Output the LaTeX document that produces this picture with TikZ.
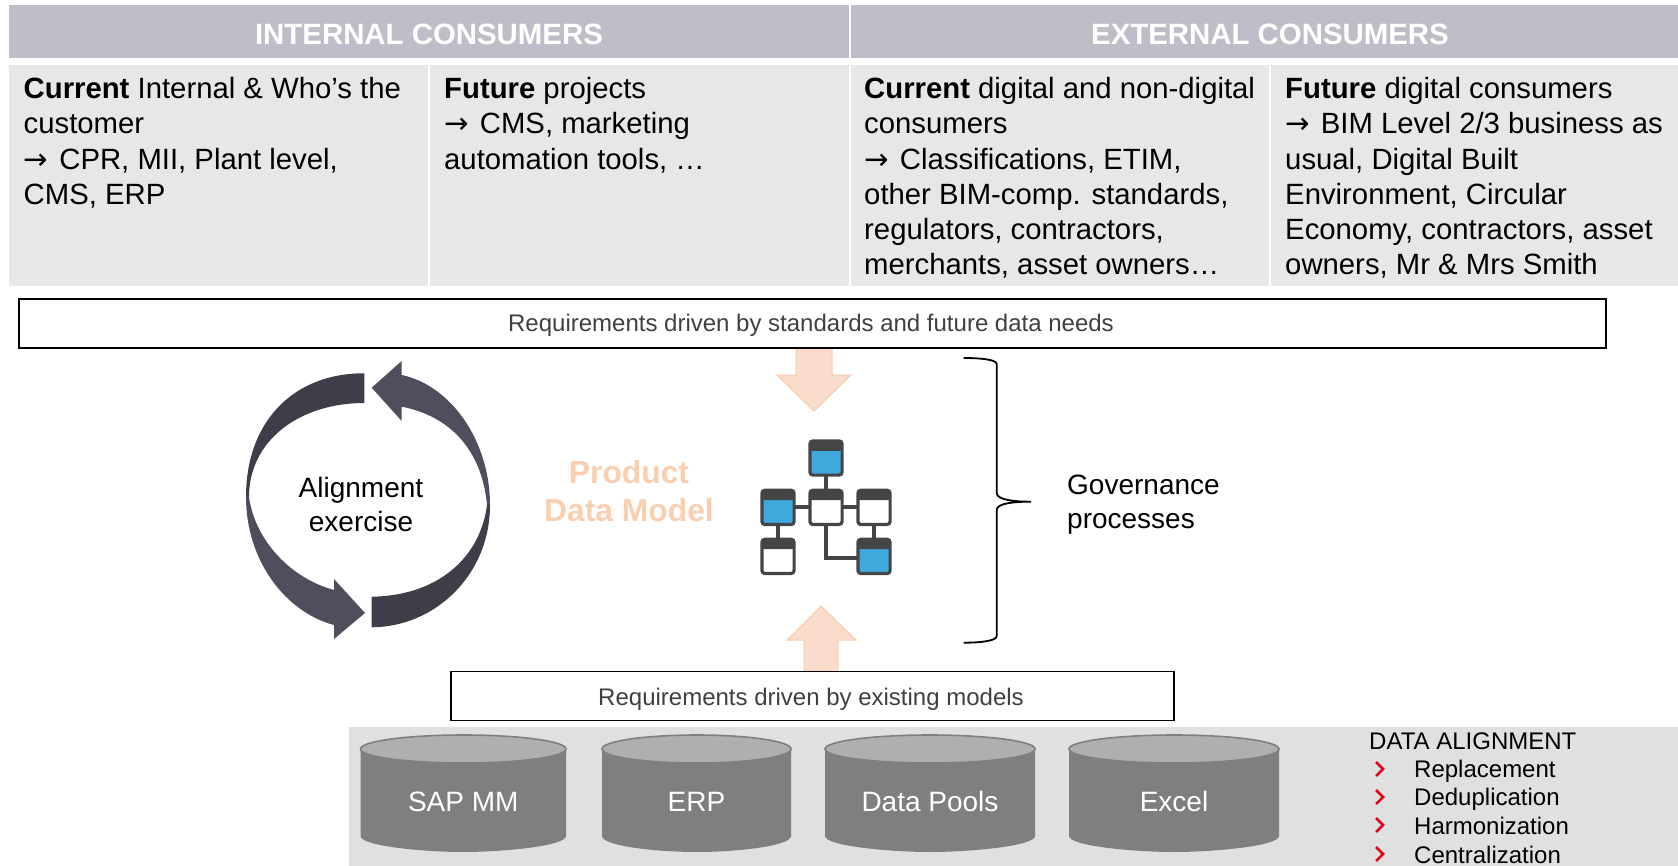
\documentclass[tikz,border=0pt]{standalone}
\usepackage{fontspec}
\setmainfont{Liberation Sans}
\newfontfamily\arw{DejaVu Sans}
\usetikzlibrary{calc}
\definecolor{hdr}{HTML}{BFBEC8}
\definecolor{cellc}{HTML}{E6E7E9}
\definecolor{band}{HTML}{DFE1E0}
\definecolor{lil}{HTML}{524D5C}
\definecolor{lild}{HTML}{403C48}
\definecolor{peachf}{HTML}{F9DCCB}
\definecolor{peachs}{HTML}{F8CBAD}
\definecolor{peacht}{HTML}{F9CFB0}
\definecolor{icond}{HTML}{444547}
\definecolor{iconb}{HTML}{3FA9DC}
\definecolor{cylb}{HTML}{7F7F7F}
\definecolor{cylt}{HTML}{AFAFAF}
\definecolor{chev}{HTML}{E2001A}
\definecolor{reqt}{HTML}{404040}
\newcommand{\ra}{{\arw →}\hspace{3pt}}
\tikzset{
  hdrtxt/.style={text=white,font=\fontsize{29.4}{32}\selectfont\bfseries},
  celltxt/.style={anchor=north west,inner sep=0pt,align=left,font=\fontsize{29.3}{35.3}\selectfont},
  reqbox/.style={draw=black,line width=1.6pt,fill=white},
  reqtxt/.style={text=reqt,font=\fontsize{24}{26}\selectfont},
  peacharrow/.style={fill=peachf,draw=peachs,line width=1pt},
  big/.style={font=\fontsize{28}{33.5}\selectfont,align=center},
  link/.style={draw=icond,line width=4.2pt},
  tbl/.style={draw=icond,line width=3.2pt,rounded corners=3pt},
  chevron/.style={draw=chev,line width=2.5pt},
  altxt/.style={anchor=base west,inner sep=0pt,font=\fontsize{24}{26}\selectfont},
}
\newcommand{\cyl}[4]{% left, right, name, label
  \fill[cylb] (#1,749) -- (#2,749) -- (#2,836) .. controls (#2,846) and ({(#1+#2)/2+40},852) .. ({(#1+#2)/2},852) .. controls ({(#1+#2)/2-40},852) and (#1,846) .. (#1,836) -- cycle;
  \path[fill=cylt,draw=cylb,line width=1.6pt] ({(#1+#2)/2},749) ellipse [x radius={(#2-#1)/2}, y radius=14];
  \node[text=white,font=\fontsize{28}{30}\selectfont] (#3) at ({(#1+#2)/2},801.5) {#4};
}
\newcommand{\tblbox}[4]{% name, left, top, fill
  \path[fill=#4] ($(#2,#3)+(1.6,1.6)$) rectangle +(32.2,34.2);
  \fill[icond,rounded corners=3pt] ($(#2,#3)+(1,1)$) rectangle +(33.4,10.5);
  \draw[tbl] ($(#2,#3)+(1.6,1.6)$) rectangle +(32.2,34.2);
  \coordinate (#1) at ($(#2,#3)+(17.7,18.7)$);
}
\begin{document}
\begin{tikzpicture}[x=1pt,y=-1pt]
\useasboundingbox (0,0) rectangle (1678,866);
% header
\fill[hdr] (9,5) rectangle (849,58);
\fill[hdr] (851,5) rectangle (1678,58);
\node[hdrtxt] (h1) at (429,34) {INTERNAL CONSUMERS};
\node[hdrtxt] (h2) at (1270,34) {EXTERNAL CONSUMERS};
% cells
\fill[cellc] (9,65) rectangle (428,286);
\fill[cellc] (430,65) rectangle (849,286);
\fill[cellc] (851,65) rectangle (1269,286);
\fill[cellc] (1271,65) rectangle (1678,286);
\node[celltxt] (c1) at (23.5,77) {\textbf{Current} Internal \& Who’s the\\customer\\\ra{} CPR, MII, Plant level,\\CMS, ERP};
\node[celltxt] (c2) at (444,77) {\textbf{Future} projects\\\ra{} CMS, marketing\\automation tools, …};
\node[celltxt] (c3) at (864,77) {\textbf{Current} digital and non-digital\\consumers\\\ra{} Classifications, ETIM,\\other BIM-comp. standards,\\regulators, contractors,\\merchants, asset owners…};
\node[celltxt] (c4) at (1285,77) {\textbf{Future} digital consumers\\\ra{} BIM Level 2/3 business as\\usual, Digital Built\\Environment, Circular\\Economy, contractors, asset\\owners, Mr \& Mrs Smith};
% peach arrows
\path[peacharrow] (796,340) -- (832,340) -- (832,375) -- (851,375) -- (814,411) -- (777,375) -- (796,375) -- cycle;
\path[peacharrow] (804,680) -- (838,680) -- (838,640) -- (856,640) -- (821,606) -- (787,640) -- (804,640) -- cycle;
% requirement boxes
\node[reqbox,minimum width=1587pt,minimum height=49pt,inner sep=0pt] (r1) at (812.5,323.5) {};
\node[reqtxt] (r1t) at (811,325.5) {Requirements driven by standards and future data needs};
\fill[band] (348.5,726.7) rectangle (1678,866);
\node[reqbox,minimum width=723pt,minimum height=49pt,inner sep=0pt] (r2) at (812.5,696) {};
\node[reqtxt] (r2t) at (811,699.5) {Requirements driven by existing models};
% circular arrows
\fill[lild] (364.3,373.3) .. controls (295,373) and (246,420) .. (246,497) -- (249,497) .. controls (249,440) and (300,403) .. (364.3,403) -- cycle;
\fill[lil] (246,497) .. controls (246,560) and (285,612) .. (334,625) -- (334,639) -- (365,613) -- (334,579) -- (334,590) .. controls (290,578) and (255,540) .. (249,497) -- cycle;
\fill[lil] (490,505) .. controls (490,440) and (450,385) .. (401.7,375) -- (401.7,361) -- (371.7,387.7) -- (401.7,421) -- (401.7,406.7) .. controls (450,416) and (482,450) .. (487,505) -- cycle;
\fill[lild] (371.7,596.7) .. controls (435,596) and (480,560) .. (487,505) -- (490,505) .. controls (490,575) and (435,627) .. (371.7,627.3) -- cycle;
\node[big,text=black] (al) at (361,504.5) {Alignment\\exercise};
% product data model
\node[text=peacht,align=center,font=\fontsize{31.8}{38}\selectfont\bfseries] (pdm) at (629,491) {Product\\Data Model};
% icon
\tblbox{t1}{808.3}{439.3}{iconb}
\tblbox{t2}{760.3}{488.7}{iconb}
\tblbox{t3}{808.3}{488.7}{white}
\tblbox{t4}{856.3}{488.7}{white}
\tblbox{t5}{760.3}{537.7}{white}
\tblbox{t6}{856.3}{537.7}{iconb}
\draw[link] (826,476) -- (826,489);
\draw[link] (795,507) -- (809,507);
\draw[link] (843,507) -- (857,507);
\draw[link] (778,525.5) -- (778,538);
\draw[link] (874,525.5) -- (874,538);
\draw[link] (826,525.5) -- (826,558) -- (857,558);
% brace
\draw[black,line width=1.8pt] (963.7,358) .. controls (980,358) and (996.7,359.5) .. (996.7,364) -- (996.7,493) .. controls (996.7,500) and (1015,501.7) .. (1031,501.7) .. controls (1015,501.7) and (996.7,503) .. (996.7,510) -- (996.7,636) .. controls (996.7,641) and (980,642.7) .. (963.7,642.7);
\node[anchor=west,align=left,inner sep=0pt,font=\fontsize{28}{34.5}\selectfont] (gov) at (1067,504.5) {Governance\\processes};
% cylinders
\cyl{360.5}{566}{s1}{SAP MM}
\cyl{602}{791}{s2}{ERP}
\cyl{825}{1035}{s3}{Data Pools}
\cyl{1069}{1279}{s4}{Excel}
% data alignment
\node[altxt] (da) at (1369,749.3) {DATA ALIGNMENT};
\node[altxt] (i1) at (1414,777.7) {Replacement};
\node[altxt] (i2) at (1414,805.3) {Deduplication};
\node[altxt] (i3) at (1414,834.7) {Harmonization};
\node[altxt] (i4) at (1414,863.3) {Centralization};
\draw[chevron] (1376,762) -- (1383,769) -- (1376,776);
\draw[chevron] (1376,790) -- (1383,797) -- (1376,804);
\draw[chevron] (1376,818) -- (1383,825) -- (1376,832);
\draw[chevron] (1376,847) -- (1383,854) -- (1376,861);
\end{tikzpicture}
\end{document}
